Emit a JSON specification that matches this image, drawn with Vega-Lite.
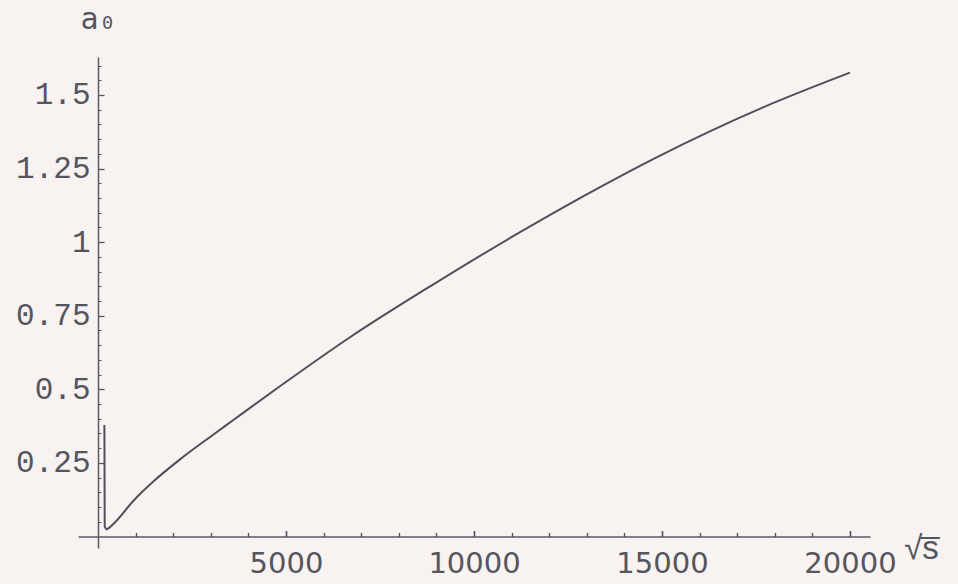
{
  "$schema": "https://vega.github.io/schema/vega-lite/v6.json",
  "width": 792,
  "height": 491,
  "autosize": {"type": "none"},
  "padding": {"left": 78, "top": 57, "right": 88, "bottom": 36},
  "background": "#f8f2f0",
  "config": {"view": {"stroke": null}},
  "data": {
    "values": [
      {"sqrt_s": 170, "a0": 0.379},
      {"sqrt_s": 178, "a0": 0.035},
      {"sqrt_s": 231, "a0": 0.025},
      {"sqrt_s": 400, "a0": 0.042},
      {"sqrt_s": 931, "a0": 0.12},
      {"sqrt_s": 1500, "a0": 0.19},
      {"sqrt_s": 2181, "a0": 0.262},
      {"sqrt_s": 3000, "a0": 0.34},
      {"sqrt_s": 3591, "a0": 0.395},
      {"sqrt_s": 4921, "a0": 0.518},
      {"sqrt_s": 6703, "a0": 0.677},
      {"sqrt_s": 8911, "a0": 0.856},
      {"sqrt_s": 11145, "a0": 1.028},
      {"sqrt_s": 13353, "a0": 1.187},
      {"sqrt_s": 14869, "a0": 1.289},
      {"sqrt_s": 17689, "a0": 1.458},
      {"sqrt_s": 20000, "a0": 1.576}
    ]
  },
  "layer": [
    {
      "mark": {"type": "line", "color": "#4f4f5c", "strokeWidth": 2, "interpolate": "monotone"},
      "encoding": {
        "x": {
          "field": "sqrt_s", "type": "quantitative",
          "scale": {"domain": [-532, 20532], "nice": false, "zero": false},
          "axis": {
            "orient": "bottom", "offset": -11.5, "values": [5000, 10000, 15000, 20000], "format": "d",
            "grid": false, "ticks": true, "tickSize": -6, "tickWidth": 1.6, "tickColor": "#4f4f60", "zindex": 1,
            "domainColor": "#5a5a66", "domainWidth": 1.5,
            "labelPadding": 19, "labelFont": "DejaVu Sans", "labelFontSize": 29, "labelColor": "#55555f",
            "labelFlush": false, "labelOverlap": false,
            "title": "√s̅", "titleX": 843, "titleY": 22, "titleAlign": "center", "titleBaseline": "alphabetic",
            "titleFont": "Liberation Sans", "titleFontSize": 33, "titleFontWeight": "normal", "titleColor": "#55555f"
          }
        },
        "y": {
          "field": "a0", "type": "quantitative",
          "scale": {"domain": [-0.039, 1.629], "nice": false, "zero": false},
          "axis": {
            "orient": "left", "offset": -20, "values": [0.25, 0.5, 0.75, 1, 1.25, 1.5], "format": ".3~g",
            "grid": false, "tickSize": -6, "tickWidth": 1.3, "tickColor": "#55556a",
            "domainColor": "#5a5a66", "domainWidth": 1.5,
            "labelPadding": 14, "labelFont": "Liberation Mono", "labelFontSize": 31, "labelColor": "#55555f",
            "labelFlush": false, "labelOverlap": false,
            "title": "a₀", "titleAngle": 0, "titleX": 0, "titleY": -29, "titleAlign": "center", "titleBaseline": "alphabetic",
            "titleFont": "DejaVu Sans Mono", "titleFontSize": 30, "titleFontWeight": "normal", "titleColor": "#55555f"
          }
        }
      }
    },
    {
      "mark": {"type": "line", "strokeOpacity": 0},
      "encoding": {
        "x": {
          "field": "sqrt_s", "type": "quantitative",
          "axis": {
            "orient": "bottom", "offset": -11.5,
            "values": [1000, 2000, 3000, 4000, 6000, 7000, 8000, 9000, 11000, 12000, 13000, 14000, 16000, 17000, 18000, 19000],
            "grid": false, "domain": false, "labels": false, "title": null, "zindex": 1,
            "ticks": true, "tickSize": -4, "tickWidth": 1.4, "tickColor": "#4f4f60"
          }
        },
        "y": {
          "field": "a0", "type": "quantitative",
          "axis": {
            "orient": "left", "offset": -20,
            "values": [0.05, 0.1, 0.15, 0.2, 0.3, 0.35, 0.4, 0.45, 0.55, 0.6, 0.65, 0.7, 0.8, 0.85, 0.9, 0.95, 1.05, 1.1, 1.15, 1.2, 1.3, 1.35, 1.4, 1.45, 1.55, 1.6],
            "grid": false, "domain": false, "labels": false, "title": null,
            "tickSize": -3, "tickWidth": 1, "tickColor": "#55556a"
          }
        }
      }
    }
  ],
  "resolve": {"axis": {"x": "independent", "y": "independent"}}
}
